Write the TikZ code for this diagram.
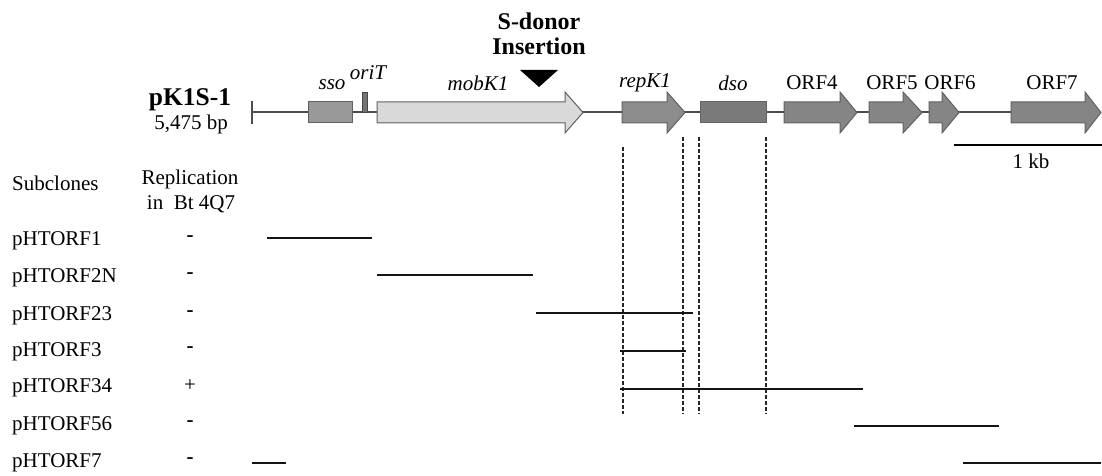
\documentclass[tikz,border=0pt]{standalone}
\usepackage{fontspec}
\setmainfont{Liberation Serif}
\begin{document}
\begin{tikzpicture}[x=1pt,y=-1pt,
  lbl/.style={inner sep=0pt, font=\fontsize{21}{25}\selectfont},
  itlbl/.style={lbl, font=\fontsize{21}{25}\selectfont\itshape},
  backbone/.style={draw=black!70, line width=2pt},
  feat/.style={draw=black!62, line width=1pt},
  clone/.style={draw=black!92, line width=2.4pt},
  guide/.style={draw=black!85, line width=1.5pt, dash pattern=on 4pt off 2pt},
]
\useasboundingbox (0,0) rectangle (1102,476);

% gene arrow: start x, head base x, tip x, fill colour
\newcommand\genearrow[4]{%
  \filldraw[feat, fill=#4] (#1,102) -- (#2,102) -- (#2,92) -- (#3,112.5)
    -- (#2,133) -- (#2,123) -- (#1,123) -- cycle;}

% plasmid backbone with left end tick
\coordinate (bbL) at (252,112.5);
\coordinate (bbR) at (1015,112.5);
\draw[backbone] (bbL) -- (bbR);
\draw[backbone] (252,101) -- (252,124);

% features
\filldraw[feat, fill=black!40] (308,102) rectangle (352,123);
\filldraw[draw=black!72, line width=0.7pt, fill=black!55] (362,92) rectangle (367,112);
\genearrow{377}{565}{583}{black!15}
\genearrow{622}{667}{685}{black!45}
\filldraw[feat, fill=black!52] (700,102) rectangle (766,123);
\genearrow{784}{840}{857}{black!48}
\genearrow{869}{903}{922}{black!48}
\genearrow{929}{942}{959}{black!48}
\genearrow{1011}{1085}{1101}{black!48}

% S-donor insertion site
\fill[black] (520,70) -- (558,70) -- (539,87) -- cycle;
\node[lbl, font=\fontsize{24}{28}\selectfont\bfseries] (sd1) at (539,21) {S-donor};
\node[lbl, font=\fontsize{24}{28}\selectfont\bfseries] (sd2) at (539,46) {Insertion};

% feature labels
\node[itlbl] (lsso) at (332,85) {sso};
\node[itlbl] (lori) at (368,73) {oriT};
\node[itlbl] (lmob) at (478,83) {mobK1};
\node[itlbl] (lrep) at (645,83) {repK1};
\node[itlbl] (ldso) at (733,83) {dso};
\node[lbl] (l4) at (812,83) {ORF4};
\node[lbl] (l5) at (892,83) {ORF5};
\node[lbl] (l6) at (950,83) {ORF6};
\node[lbl] (l7) at (1052,83) {ORF7};

% plasmid name
\node[lbl, font=\fontsize{25.5}{30}\selectfont\bfseries] (pname) at (190,100) {pK1S-1};
\node[lbl, font=\fontsize{21}{25}\selectfont] (psize) at (191,124) {5,475 bp};

% scale bar
\coordinate (sbL) at (954,145);
\coordinate (sbR) at (1102,145);
\draw[draw=black, line width=2.4pt] (sbL) -- (sbR);
\node[lbl] (kb) at (1031,161) {1 kb};

% column headers
\node[lbl, anchor=west] (hsub) at (12,183) {Subclones};
\node[lbl] (hrep1) at (190,179) {Replication};
\node[lbl] (hrep2) at (191,204) {in\ \ Bt 4Q7};

% subclone names and replication results
\foreach \n/\y/\r [count=\i] in {pHTORF1/241/\textbf{-}, pHTORF2N/278/\textbf{-},
    pHTORF23/316/\textbf{-}, pHTORF3/352/\textbf{-}, pHTORF34/388/+,
    pHTORF56/426/\textbf{-}, pHTORF7/463/\textbf{-}} {
  \node[lbl, anchor=west] (s\i) at (12,\y) {\n};
  \node[lbl] (r\i) at (190,\y-2) {\r};
}

% boundary guides
\foreach \x/\yt [count=\i] in {623/147, 683/137, 699/137, 766/137} {
  \coordinate (gt\i) at (\x,\yt);
  \coordinate (gb\i) at (\x,414);
  \draw[guide] (gt\i) -- (gb\i);
}

% subclone extents
\foreach \xa/\xb/\y [count=\i] in {267/372/238, 377/533/275, 536/693/313,
    620/686/351, 620/863/389, 854/999/426, 252/286/463, 963/1101/463} {
  \coordinate (ca\i) at (\xa,\y);
  \coordinate (cb\i) at (\xb,\y);
  \draw[clone] (ca\i) -- (cb\i);
}
\end{tikzpicture}
\end{document}
